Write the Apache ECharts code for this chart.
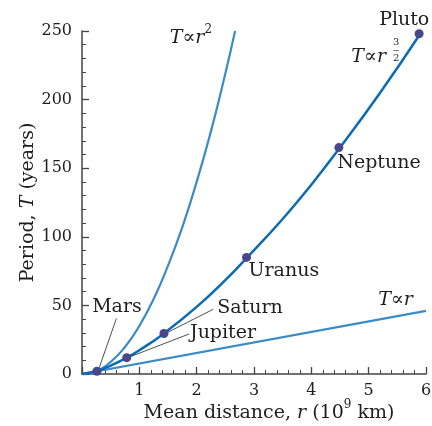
<!DOCTYPE html>
<html>
<head>
<meta charset="utf-8">
<script src="https://cdn.jsdelivr.net/npm/echarts@6/dist/echarts.min.js"></script>
<style>
  html, body { margin: 0; padding: 0; background: #fff; }
  #chart { width: 432px; height: 426px; }
</style>
</head>
<body>
<div id="chart"></div>
<script>
// 曲线数据 (r: 10^9 km, T: years)
const curveSquare = [[0, 0], [0.25, 2.2], [0.5, 8.8], [0.75, 19.7], [1, 35], [1.25, 54.7], [1.5, 79], [1.75, 107], [2, 140], [2.25, 177], [2.5, 219], [2.67, 250]];
const curveThreeHalves = [[0, 0], [0.25, 2.2], [0.5, 6.1], [0.78, 11.9], [1, 17.3], [1.43, 29.6], [2, 48.9], [2.5, 68.4], [2.87, 84.5], [3.5, 113], [4, 138], [4.5, 165], [5.2, 205], [5.9, 248]];
const curveLinear = [[0, 0], [6, 46]];

// 行星
const planetNames = ['Mars', 'Jupiter', 'Saturn', 'Uranus', 'Neptune', 'Pluto'];
const planetR = [0.26, 0.78, 1.43, 2.87, 4.48, 5.88];
const planetT = [2.0, 11.9, 29.5, 85, 165, 248];

// 标签位置
const labelR = [0.61, 2.46, 2.93, 3.52, 5.18, 5.62];
const labelT = [49, 30, 48, 75, 154, 258];

// 引线
const leaders = [
    [[0.6, 40.5], [0.3, 4.5]],
    [[2.29, 47.2], [1.5, 30.5]],
    [[1.87, 29.2], [0.84, 12.6]]
];

// 公式
const formulaText = ['{i|T}∝{i|r}{s|2}', '{i|T}∝{i|r}', '{i|T}∝{i|r}'];
const formulaR = [1.9, 5.0, 5.47];
const formulaT = [245, 231, 54];
const fractionPos = [5.48, 236];

const serif = 'DejaVu Serif';
const textColor = '#1e1e1e';
const richStyles = {
    i: { fontStyle: 'italic', fontFamily: serif, fontSize: 19, color: textColor },
    s: { fontFamily: serif, fontSize: 12, color: textColor, verticalAlign: 'top', lineHeight: 28 },
    f: { fontFamily: serif, fontSize: 10, color: textColor, lineHeight: 8 }
};

let chart = echarts.init(document.getElementById('chart'));

const option = {
    animation: false,
    grid: { left: 82, right: 6, top: 31, bottom: 52, outerBoundsMode: 'none', containLabel: false },
    xAxis: {
        type: 'value',
        min: 0,
        max: 6,
        interval: 1,
        name: 'Mean distance, {i|r} (10{s|9} km)',
        nameLocation: 'middle',
        nameGap: 25,
        nameMoveOverlap: false,
        nameTextStyle: {
            fontFamily: serif, fontSize: 19, color: textColor, padding: [0, 0, 0, 30],
            rich: {
                i: { fontStyle: 'italic', fontFamily: serif, fontSize: 19, color: textColor },
                s: { fontFamily: serif, fontSize: 12, color: textColor, verticalAlign: 'top', lineHeight: 28 }
            }
        },
        axisLine: { onZero: false, lineStyle: { color: '#444', width: 1.5 } },
        axisTick: { inside: true, length: 7, lineStyle: { color: '#444', width: 1.3 } },
        minorTick: { show: true, splitNumber: 5, length: 4, lineStyle: { color: '#444', width: 1 } },
        axisLabel: {
            fontFamily: serif, fontSize: 16, color: textColor, margin: 9,
            formatter: function (v) { return v === 0 ? '' : v; }
        },
        splitLine: { show: false }
    },
    yAxis: {
        type: 'value',
        min: 0,
        max: 250,
        interval: 50,
        name: 'Period, {i|T} (years)',
        nameLocation: 'middle',
        nameGap: 44,
        nameMoveOverlap: false,
        nameTextStyle: {
            fontFamily: serif, fontSize: 19, color: textColor,
            rich: { i: { fontStyle: 'italic', fontFamily: serif, fontSize: 19, color: textColor } }
        },
        axisLine: { show: true, lineStyle: { color: '#444', width: 1.5 } },
        axisTick: { inside: true, length: 7, lineStyle: { color: '#444', width: 1.3 } },
        minorTick: { show: true, splitNumber: 5, length: 4, lineStyle: { color: '#444', width: 1 } },
        axisLabel: { fontFamily: serif, fontSize: 16, color: textColor, margin: 10 },
        splitLine: { show: false }
    },
    series: [
        {
            name: 'T∝r²', type: 'line', data: curveSquare, smooth: true, symbol: 'none',
            lineStyle: { color: '#3a8cc6', width: 2.2 }, z: 2
        },
        {
            name: 'T∝r^1.5', type: 'line', data: curveThreeHalves, smooth: true, symbol: 'none',
            lineStyle: { color: '#0a6ab6', width: 2.5 }, z: 3
        },
        {
            name: 'T∝r', type: 'line', data: curveLinear, symbol: 'none',
            lineStyle: { color: '#3a8cc6', width: 2.2 }, z: 2
        },
        {
            name: 'leaders', type: 'lines', coordinateSystem: 'cartesian2d',
            data: leaders.map(c => ({ coords: c })),
            lineStyle: { color: '#222', width: 0.8, opacity: 1 }, z: 4
        },
        {
            name: 'planets', type: 'scatter', symbolSize: 9,
            data: planetR.map((r, i) => [r, planetT[i]]),
            itemStyle: { color: '#4a468a', opacity: 1 }, z: 5
        },
        {
            name: 'planetLabels', type: 'scatter', symbolSize: 0, clip: false,
            data: labelR.map((r, i) => ({ value: [r, labelT[i]], name: planetNames[i] })),
            itemStyle: { opacity: 1 },
            label: {
                show: true, position: 'inside', formatter: '{b}',
                fontFamily: serif, fontSize: 19, color: textColor
            }, z: 6
        },
        {
            name: 'formulas', type: 'scatter', symbolSize: 0, clip: false,
            data: formulaR.map((r, i) => ({ value: [r, formulaT[i]], name: formulaText[i] })),
            itemStyle: { opacity: 1 },
            label: {
                show: true, position: 'inside', formatter: '{b}',
                fontFamily: serif, fontSize: 19, color: textColor, rich: richStyles
            }, z: 6
        },
        {
            name: 'fraction', type: 'scatter', symbolSize: 0, clip: false,
            data: [{ value: fractionPos, name: '{f|3}\n{f|‒}\n{f|2}' }],
            itemStyle: { opacity: 1 },
            label: {
                show: true, position: 'inside', formatter: '{b}',
                fontFamily: serif, fontSize: 10, color: textColor, rich: richStyles
            }, z: 6
        }
    ]
};

chart.setOption(option);
</script>
</body>
</html>
